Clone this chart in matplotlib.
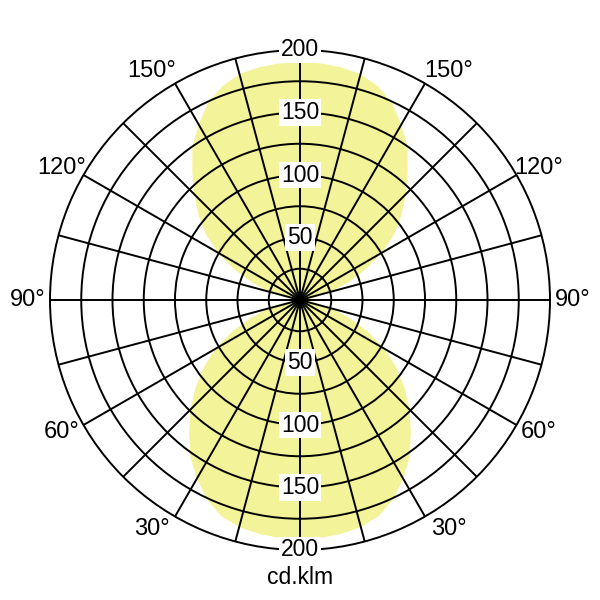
import numpy as np
import matplotlib.pyplot as plt

plt.rcParams['font.family'] = ['Liberation Sans', 'DejaVu Sans']

# intensity (cd/klm) vs angle from the lobe axis
gamma = [0, 5, 10, 15, 20, 25, 30, 35, 40, 45, 50, 55, 60, 65, 70, 75, 80, 85, 90]
upper = [190, 190, 189, 187, 182, 174, 162, 150, 134, 120, 106, 92, 76, 58, 41, 25, 12, 4, 0]
lower = [191, 191, 190, 188, 184, 176, 165, 153, 138, 124, 109, 94, 78, 60, 42, 26, 13, 4, 0]

r_ticks = [50, 100, 150, 200]
angle_ticks = [30, 60, 90, 120, 150]
unit = "cd.klm"

fig = plt.figure(figsize=(6, 6), dpi=100)
ax = fig.add_axes([50/600, 50/600, 500/600, 500/600], projection='polar')
ax.set_theta_zero_location('S')
ax.set_ylim(0, 200)

g = np.array(gamma)
# closed lobes: sweep -90..90 around each lobe axis
th_up = np.concatenate([180 - g[::-1], 180 + g[1:]])
r_up = np.concatenate([upper[::-1], upper[1:]])
th_lo = np.concatenate([-g[::-1], g[1:]])
r_lo = np.concatenate([lower[::-1], lower[1:]])
ax.fill(np.radians(th_up), r_up, color='#F3F39A', lw=0, zorder=1)
ax.fill(np.radians(th_lo), r_lo, color='#F3F39A', lw=0, zorder=1)

ax.set_thetagrids(np.arange(0, 360, 15), labels=[])
ax.set_rgrids(np.arange(25, 200, 25), labels=[])
ax.grid(True, color='black', lw=1.4)
ax.spines['polar'].set_linewidth(1.4)
ax.spines['polar'].set_color('black')

box = dict(boxstyle='square,pad=0.08', fc='white', ec='none')
for r in r_ticks:
    for th in (0, 180):
        ax.text(np.radians(th), r, str(r), ha='center', va='center',
                fontsize=16.5, bbox=box, zorder=5)

# 30/150 labels sit a little further round from the vertical
nudge = {30: 3, 60: 1, 90: 0, 120: -1, 150: -3}
for a in angle_ticks:
    for s in (1, -1):
        th = s * (a + nudge[a])
        ax.text(np.radians(th), 218, f"{a}°", ha='center', va='center',
                fontsize=17, clip_on=False)

fig.text(0.5, 1 - 578/600, unit, ha='center', va='center', fontsize=16.5)

fig.savefig('out.png')
